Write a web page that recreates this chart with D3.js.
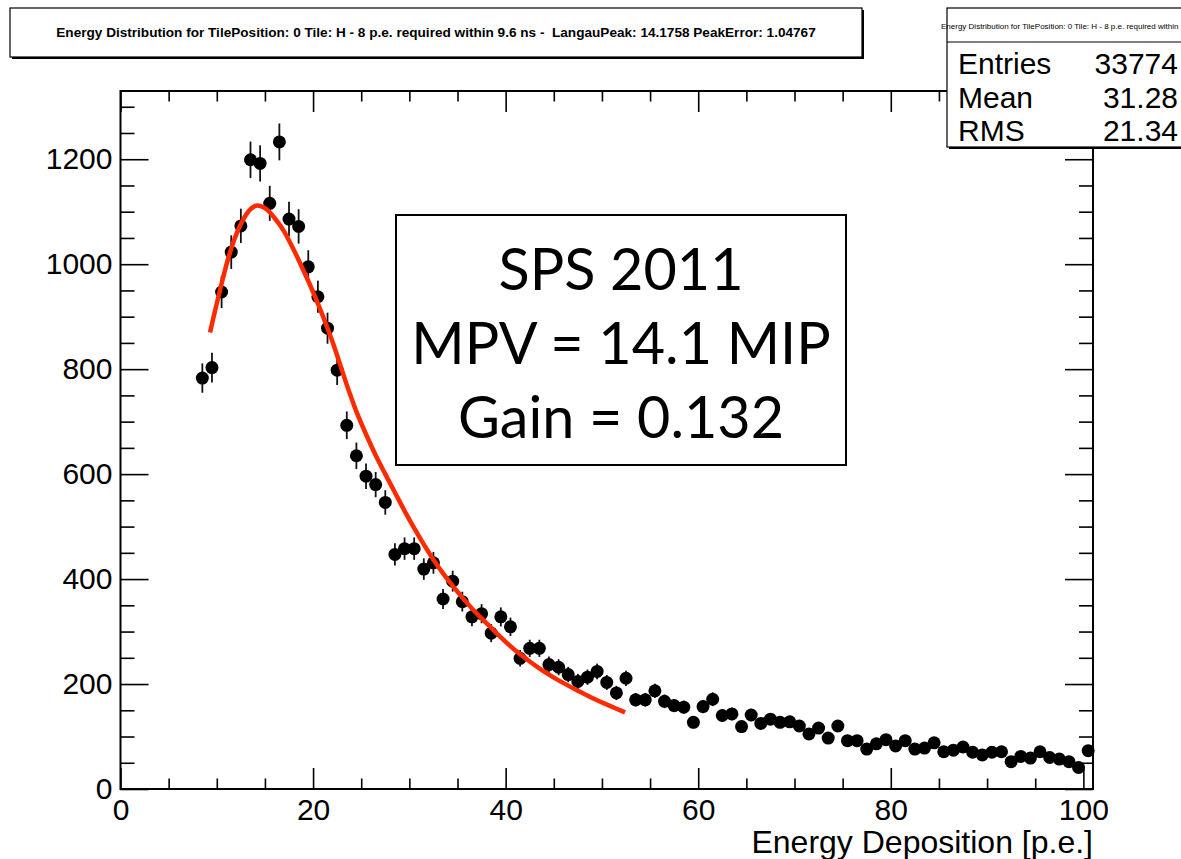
<!DOCTYPE html>
<html>
<head>
<meta charset="utf-8">
<script src="https://cdn.jsdelivr.net/npm/d3@7"></script>
<style>
  body { margin: 0; background: #fff; }
  svg { display: block; }
</style>
</head>
<body>
<svg id="chart" width="1181" height="859"></svg>
<script>
// Histogram: 1 p.e. wide bins starting at 8 p.e.
const binStart = 8;
const binWidth = 1;
const counts = [
  783, 803, 947, 1023, 1073, 1199, 1192, 1116, 1233, 1086,
  1072, 995, 938, 878, 798, 693, 635, 596, 580, 546,
  447, 458, 458, 419, 431, 362, 396, 357, 328, 334,
  297, 328, 309, 249, 268, 268, 237, 232, 218, 205,
  213, 224, 203, 183, 211, 170, 170, 187, 167, 159,
  156, 127, 157, 171, 140, 143, 119, 141, 125, 133,
  127, 128, 120, 105, 116, 97, 120, 92, 92, 76,
  86, 94, 82, 92, 76, 78, 88, 71, 74, 80,
  70, 65, 70, 71, 52, 62, 59, 71, 60, 57,
  52, 41, 73
];

// Langau fit curve, sampled along the fitted range
const fitEnergy = [9.3, 9.8, 10.3, 10.8, 11.3, 11.8, 12.3, 12.8, 13.3, 13.8,
  14.2, 14.9, 15.5, 16.0, 16.5, 17.0, 17.5, 18.0, 18.5, 19.0,
  19.5, 20.0, 20.5, 21.0, 21.5, 22.0, 22.5, 23.0, 23.5, 24.0,
  24.5, 25.5, 26.5, 27.5, 28.5, 29.5, 30.5, 31.5, 32.5, 33.5,
  34.5, 35.5, 36.5, 37.5, 38.5, 39.5, 40.5, 41.5, 42.5, 43.5,
  44.5, 45.5, 46.5, 47.5, 48.5, 49.5, 50.5, 51.5, 52.4];
const fitValue = [870, 910, 948, 985, 1018, 1046, 1069, 1087, 1101, 1109,
  1112, 1108, 1099, 1088, 1076, 1062, 1045, 1027, 1008, 988,
  968, 947, 925, 902, 878, 853, 826, 798, 770, 744,
  719, 676, 636, 600, 565, 530, 497, 466, 437, 411,
  387, 365, 344, 325, 307, 289, 272, 257, 243, 230,
  218, 207, 197, 187, 178, 169, 161, 153, 146];

const xMajorTicks = [0, 20, 40, 60, 80, 100];
const xMinorTicks = [5, 10, 15, 25, 30, 35, 45, 50, 55, 65, 70, 75, 85, 90, 95];
const yMajorTicks = [0, 200, 400, 600, 800, 1000, 1200];
const yMinorTicks = [50, 100, 150, 250, 300, 350, 450, 500, 550, 650, 700, 750,
  850, 900, 950, 1050, 1100, 1150, 1250, 1300];

const titleText = "Energy Distribution for TilePosition: 0 Tile: H - 8 p.e. required within 9.6 ns -  LangauPeak: 14.1758 PeakError: 1.04767";
const statsHeader = "Energy Distribution for TilePosition: 0 Tile: H - 8 p.e. required within 9.6 ns -  LangauPeak: 14.1758 PeakError: 1.04767";
const statsLabels = ["Entries", "Mean", "RMS"];
const statsValues = ["33774", "31.28", "21.34"];
const noteLines = ["SPS 2011", "MPV = 14.1 MIP", "Gain = 0.132"];
const xTitle = "Energy Deposition [p.e.]";

const svg = d3.select("#chart");
const frame = { left: 120.5, right: 1093, top: 91, bottom: 789 };

const x = d3.scaleLinear().domain([0, 101]).range([frame.left, frame.right]);
const y = d3.scaleLinear().domain([0, 1330]).range([frame.bottom, frame.top]);

const axisFont = "'Liberation Sans', Arial, Helvetica, sans-serif";

// --- axes (ticks drawn inward on all four sides) ---
function styleAxis(g) {
  g.select(".domain").remove();
  g.selectAll(".tick line").attr("stroke", "#000").attr("stroke-width", 1.6);
  g.selectAll(".tick text").attr("fill", "#000")
    .style("font-family", axisFont).style("font-size", "30px");
}

svg.append("g").attr("transform", `translate(0,${frame.bottom})`)
  .call(d3.axisBottom(x).tickValues(xMajorTicks).tickSize(-21).tickPadding(10).tickFormat(d3.format("d")))
  .call(styleAxis);
svg.append("g").attr("transform", `translate(0,${frame.bottom})`)
  .call(d3.axisBottom(x).tickValues(xMinorTicks).tickSize(-10.5).tickFormat(""))
  .call(styleAxis);
svg.append("g").attr("transform", `translate(0,${frame.top})`)
  .call(d3.axisTop(x).tickValues(xMajorTicks).tickSize(-21).tickFormat(""))
  .call(styleAxis);
svg.append("g").attr("transform", `translate(0,${frame.top})`)
  .call(d3.axisTop(x).tickValues(xMinorTicks).tickSize(-10.5).tickFormat(""))
  .call(styleAxis);

svg.append("g").attr("transform", `translate(${frame.left},0)`)
  .call(d3.axisLeft(y).tickValues(yMajorTicks).tickSize(-28).tickPadding(8).tickFormat(d3.format("d")))
  .call(styleAxis);
svg.append("g").attr("transform", `translate(${frame.left},0)`)
  .call(d3.axisLeft(y).tickValues(yMinorTicks).tickSize(-14).tickFormat(""))
  .call(styleAxis);
svg.append("g").attr("transform", `translate(${frame.right},0)`)
  .call(d3.axisRight(y).tickValues(yMajorTicks).tickSize(-28).tickFormat(""))
  .call(styleAxis);
svg.append("g").attr("transform", `translate(${frame.right},0)`)
  .call(d3.axisRight(y).tickValues(yMinorTicks).tickSize(-14).tickFormat(""))
  .call(styleAxis);

// frame
svg.append("rect")
  .attr("x", frame.left).attr("y", frame.top)
  .attr("width", frame.right - frame.left).attr("height", frame.bottom - frame.top)
  .attr("fill", "none").attr("stroke", "#000").attr("stroke-width", 2);

// x-axis title
svg.append("text")
  .attr("x", frame.right).attr("y", 853)
  .attr("text-anchor", "end")
  .style("font-family", axisFont).style("font-size", "32px")
  .text(xTitle);

// --- histogram points with Poisson error bars ---
const bins = counts.map((v, i) => ({ e: binStart + (i + 0.5) * binWidth, v }));

svg.append("g").selectAll("line").data(bins).join("line")
  .attr("x1", d => x(d.e)).attr("x2", d => x(d.e))
  .attr("y1", d => y(d.v - Math.sqrt(d.v))).attr("y2", d => y(d.v + Math.sqrt(d.v)))
  .attr("stroke", "#111").attr("stroke-width", 1.8);

svg.append("g").selectAll("circle").data(bins).join("circle")
  .attr("cx", d => x(d.e)).attr("cy", d => y(d.v)).attr("r", 6.5)
  .attr("fill", "#000");

// --- fit curve ---
const fitPts = fitEnergy.map((e, i) => [e, fitValue[i]]);
svg.append("path")
  .datum(fitPts)
  .attr("d", d3.line().x(d => x(d[0])).y(d => y(d[1])).curve(d3.curveCatmullRom))
  .attr("fill", "none").attr("stroke", "#ff2a00").attr("stroke-width", 4.5);

// --- annotation box ---
const note = svg.append("g");
note.append("rect")
  .attr("x", 396).attr("y", 215).attr("width", 450).attr("height", 250)
  .attr("fill", "#fff").attr("stroke", "#000").attr("stroke-width", 2);
note.selectAll("text").data(noteLines).join("text")
  .attr("x", 621).attr("y", (d, i) => 290 + i * 74)
  .attr("text-anchor", "middle")
  .style("font-family", "Lato, 'Open Sans', sans-serif").style("font-size", "57.5px")
  .text(d => d);

// --- title box ---
svg.append("rect").attr("x", 12).attr("y", 10).attr("width", 852).attr("height", 49).attr("fill", "#000");
svg.append("rect").attr("x", 10).attr("y", 8).attr("width", 852).attr("height", 49)
  .attr("fill", "#fff").attr("stroke", "#000").attr("stroke-width", 1.2);
svg.append("text")
  .attr("x", 436).attr("y", 37).attr("text-anchor", "middle")
  .attr("xml:space", "preserve").style("white-space", "pre")
  .style("font-family", axisFont).style("font-size", "13.6px").style("font-weight", "bold")
  .text(titleText);

// --- statistics box ---
const stats = svg.append("g");
stats.append("rect").attr("x", 949).attr("y", 10).attr("width", 260).attr("height", 139).attr("fill", "#000");
stats.append("rect").attr("x", 947).attr("y", 8).attr("width", 260).attr("height", 139)
  .attr("fill", "#fff").attr("stroke", "#000").attr("stroke-width", 1.2);
stats.append("line").attr("x1", 947).attr("x2", 1181).attr("y1", 42).attr("y2", 42)
  .attr("stroke", "#000").attr("stroke-width", 1.2);
stats.append("text")
  .attr("x", 941).attr("y", 29)
  .attr("xml:space", "preserve").style("white-space", "pre")
  .style("font-family", axisFont).style("font-size", "8px")
  .text(statsHeader);
stats.selectAll("text.lbl").data(statsLabels).join("text").attr("class", "lbl")
  .attr("x", 958).attr("y", (d, i) => 74 + i * 33.5)
  .style("font-family", axisFont).style("font-size", "30px")
  .text(d => d);
stats.selectAll("text.val").data(statsValues).join("text").attr("class", "val")
  .attr("x", 1178).attr("y", (d, i) => 74 + i * 33.5)
  .attr("text-anchor", "end")
  .style("font-family", axisFont).style("font-size", "30px")
  .text(d => d);
</script>
</body>
</html>
